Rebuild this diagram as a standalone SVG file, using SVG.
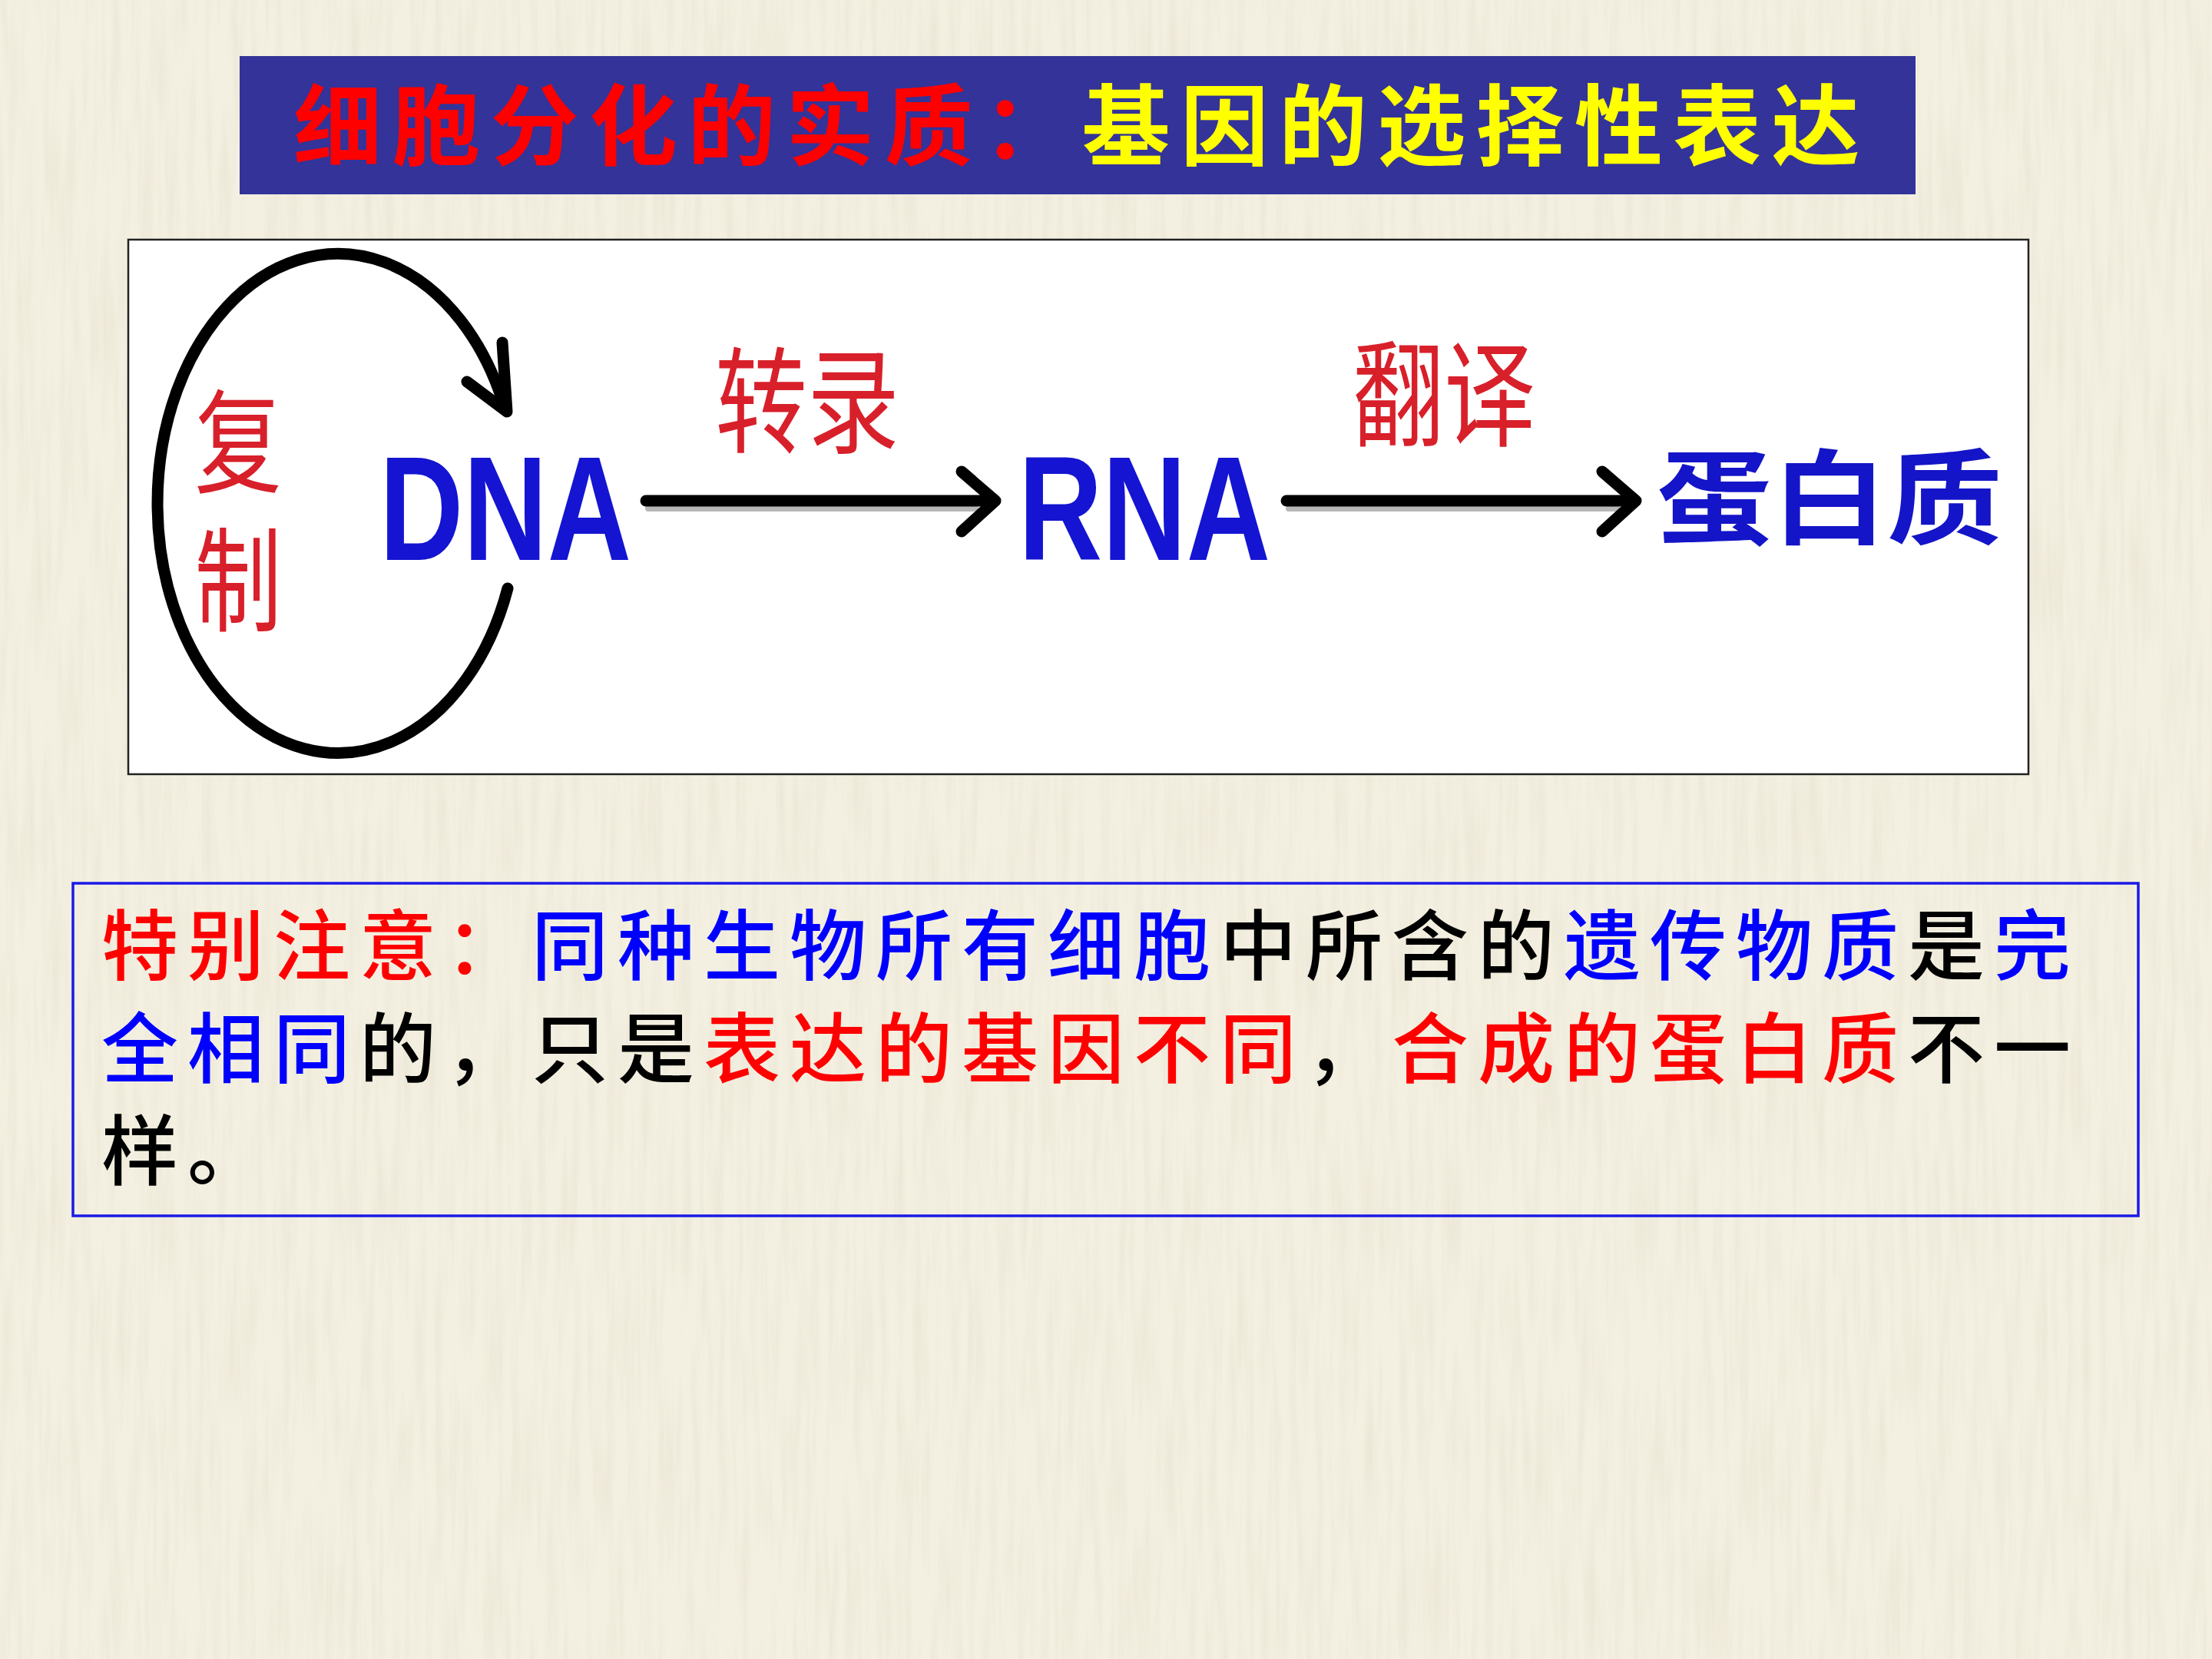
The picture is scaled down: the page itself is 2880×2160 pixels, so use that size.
<svg xmlns="http://www.w3.org/2000/svg" width="2880" height="2160" viewBox="0 0 2880 2160">
  <defs>
    <filter id="paper" x="0" y="0" width="100%" height="100%">
      <feTurbulence type="fractalNoise" baseFrequency="0.09 0.006" numOctaves="3" seed="7" result="n"/>
      <feColorMatrix type="matrix" values="0 0 0 0 0.55  0 0 0 0 0.50  0 0 0 0 0.38  0 0 0 0.9 -0.35"/>
    </filter>
    <style>
      .cjk { font-family: "Noto Sans CJK SC", "Noto Sans", sans-serif; }
      .title { font-size: 115px; font-weight: 700; letter-spacing: 13.3px; }
      .note { font-size: 100px; font-weight: 500; letter-spacing: 12px; }
      .red { fill: #FF0000; }
      .blue { fill: #0000FF; }
      .black { fill: #000000; }
      .yellow { fill: #FFFF00; }
      .latin { font-family: "Liberation Sans", Arial, sans-serif; font-weight: 700; font-size: 193px; fill: #1414D2; }
      .lbl { font-size: 150px; font-weight: 400; fill: #D8202A; }
      .vlbl { font-size: 147px; font-weight: 400; fill: #D8202A; writing-mode: vertical-rl; letter-spacing: 33px; }
      .prod { font-size: 134px; font-weight: 700; fill: #1414C8; }
      .conn { fill: none; stroke: #000; stroke-width: 15; stroke-linecap: round; stroke-linejoin: round; }
      .shadow { fill: none; stroke: #9a9a9a; stroke-width: 8; stroke-linecap: round; opacity: 0.7; }
    </style>
  </defs>

  <!-- paper background -->
  <rect x="0" y="0" width="2880" height="2160" fill="#F4F0E1"/>
  <rect x="0" y="0" width="2880" height="2160" filter="url(#paper)" opacity="0.35"/>

  <!-- title banner -->
  <g id="title">
    <rect x="312" y="73" width="2182" height="180" fill="#333399"/>
    <text class="cjk title" x="382" y="206"><tspan class="red">细胞分化的实质：</tspan><tspan class="yellow">基因的选择性表达</tspan></text>
  </g>

  <!-- flow panel -->
  <g id="panel">
    <rect x="167" y="312" width="2474" height="696" fill="#FFFFFF" stroke="#222" stroke-width="2.5"/>
  </g>

  <g id="connectors">
    <!-- replication loop around DNA -->
    <path class="conn" d="M 661 766 A 235 325 0 1 1 658 534" stroke-width="13"/>
    <path class="conn" d="M 654 446 L 660 536 L 608 497" stroke-width="13"/>
    <!-- transcription arrow -->
    <line class="shadow" x1="844" y1="662" x2="1270" y2="662"/>
    <line class="conn" x1="841" y1="652" x2="1288" y2="652"/>
    <path class="conn" d="M 1252 614 L 1296 652 L 1252 692"/>
    <!-- translation arrow -->
    <line class="shadow" x1="1678" y1="662" x2="2105" y2="662"/>
    <line class="conn" x1="1675" y1="652" x2="2122" y2="652"/>
    <path class="conn" d="M 2086 614 L 2130 652 L 2086 692"/>
  </g>

  <!-- vertical label, narrowed horizontally -->
  <g id="label-replication">
    <text class="cjk vlbl" transform="translate(310,0) scale(0.77,1)" x="0" y="501">复制</text>
  </g>

  <g id="node-dna">
    <text class="latin" x="494" y="729" textLength="328" lengthAdjust="spacingAndGlyphs">DNA</text>
  </g>

  <g id="label-transcription">
    <text class="cjk lbl" x="931" y="578" textLength="240" lengthAdjust="spacingAndGlyphs">转录</text>
  </g>

  <g id="node-rna">
    <text class="latin" x="1326" y="729" textLength="328" lengthAdjust="spacingAndGlyphs">RNA</text>
  </g>

  <g id="label-translation">
    <text class="cjk lbl" x="1761" y="569" textLength="238" lengthAdjust="spacingAndGlyphs">翻译</text>
  </g>

  <g id="node-protein">
    <text class="cjk prod" x="2157" y="698" textLength="450" lengthAdjust="spacingAndGlyphs">蛋白质</text>
  </g>

  <!-- note box -->
  <g id="note">
    <rect x="95" y="1150" width="2689" height="433" fill="none" stroke="#1a1ae6" stroke-width="3.5"/>
    <text class="cjk note" x="132" y="1268"><tspan class="red">特别注意：</tspan><tspan class="blue">同种生物所有细胞</tspan><tspan class="black">中所含的</tspan><tspan class="blue">遗传物质</tspan><tspan class="black">是</tspan><tspan class="blue">完</tspan></text>
    <text class="cjk note" x="132" y="1402"><tspan class="blue">全相同</tspan><tspan class="black">的，只是</tspan><tspan class="red">表达的基因不同</tspan><tspan class="black">，</tspan><tspan class="red">合成的蛋白质</tspan><tspan class="black">不一</tspan></text>
    <text class="cjk note black" x="132" y="1535">样。</text>
  </g>
</svg>
